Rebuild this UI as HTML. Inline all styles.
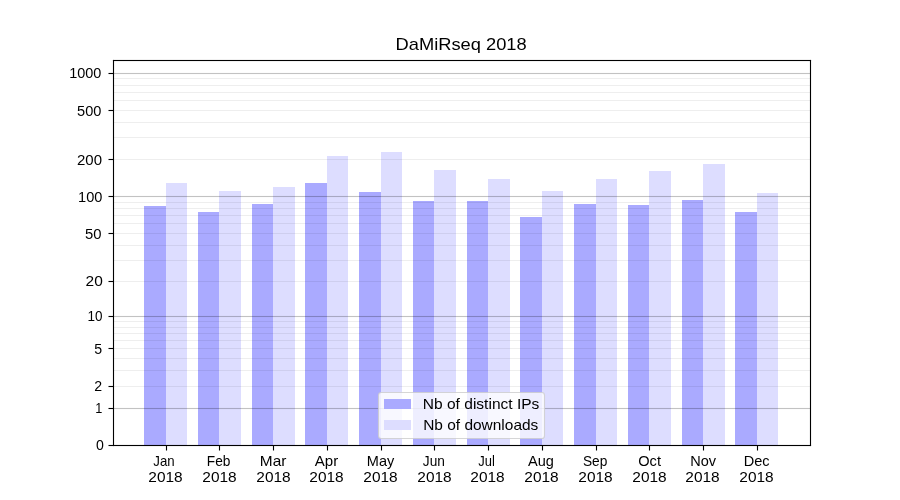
<!DOCTYPE html>
<html><head><meta charset="utf-8"><style>
html,body{margin:0;padding:0;background:#fff;width:900px;height:500px;overflow:hidden}
svg{display:block;will-change:transform}
text{font-family:"Liberation Sans",sans-serif;fill:#000}
</style></head><body>
<svg width="900" height="500" viewBox="0 0 900 500">
<rect x="0" y="0" width="900" height="500" fill="#fff"/>
<g shape-rendering="crispEdges">
<rect x="144" y="206" width="22" height="239" fill="#aaaaff"/>
<rect x="198" y="212" width="21" height="233" fill="#aaaaff"/>
<rect x="252" y="204" width="21" height="241" fill="#aaaaff"/>
<rect x="305" y="183" width="22" height="262" fill="#aaaaff"/>
<rect x="359" y="192" width="22" height="253" fill="#aaaaff"/>
<rect x="413" y="201" width="21" height="244" fill="#aaaaff"/>
<rect x="467" y="201" width="21" height="244" fill="#aaaaff"/>
<rect x="520" y="217" width="22" height="228" fill="#aaaaff"/>
<rect x="574" y="204" width="22" height="241" fill="#aaaaff"/>
<rect x="628" y="205" width="21" height="240" fill="#aaaaff"/>
<rect x="682" y="200" width="21" height="245" fill="#aaaaff"/>
<rect x="735" y="212" width="22" height="233" fill="#aaaaff"/>
<rect x="166" y="183" width="21" height="262" fill="#ddddff"/>
<rect x="219" y="191" width="22" height="254" fill="#ddddff"/>
<rect x="273" y="187" width="22" height="258" fill="#ddddff"/>
<rect x="327" y="156" width="21" height="289" fill="#ddddff"/>
<rect x="381" y="152" width="21" height="293" fill="#ddddff"/>
<rect x="434" y="170" width="22" height="275" fill="#ddddff"/>
<rect x="488" y="179" width="22" height="266" fill="#ddddff"/>
<rect x="542" y="191" width="21" height="254" fill="#ddddff"/>
<rect x="596" y="179" width="21" height="266" fill="#ddddff"/>
<rect x="649" y="171" width="22" height="274" fill="#ddddff"/>
<rect x="703" y="164" width="22" height="281" fill="#ddddff"/>
<rect x="757" y="193" width="21" height="252" fill="#ddddff"/>
</g>
<rect x="113.5" y="407.945" width="697" height="1.11" fill="#000000" fill-opacity="0.24"/>
<rect x="113.5" y="315.945" width="697" height="1.11" fill="#000000" fill-opacity="0.24"/>
<rect x="113.5" y="195.945" width="697" height="1.11" fill="#000000" fill-opacity="0.24"/>
<rect x="113.5" y="72.945" width="697" height="1.11" fill="#000000" fill-opacity="0.24"/>
<rect x="113.5" y="385.945" width="697" height="1.11" fill="#000000" fill-opacity="0.065"/>
<rect x="113.5" y="369.945" width="697" height="1.11" fill="#000000" fill-opacity="0.065"/>
<rect x="113.5" y="357.945" width="697" height="1.11" fill="#000000" fill-opacity="0.065"/>
<rect x="113.5" y="347.945" width="697" height="1.11" fill="#000000" fill-opacity="0.065"/>
<rect x="113.5" y="339.945" width="697" height="1.11" fill="#000000" fill-opacity="0.065"/>
<rect x="113.5" y="332.945" width="697" height="1.11" fill="#000000" fill-opacity="0.065"/>
<rect x="113.5" y="326.945" width="697" height="1.11" fill="#000000" fill-opacity="0.065"/>
<rect x="113.5" y="320.945" width="697" height="1.11" fill="#000000" fill-opacity="0.065"/>
<rect x="113.5" y="280.945" width="697" height="1.11" fill="#000000" fill-opacity="0.065"/>
<rect x="113.5" y="259.945" width="697" height="1.11" fill="#000000" fill-opacity="0.065"/>
<rect x="113.5" y="244.945" width="697" height="1.11" fill="#000000" fill-opacity="0.065"/>
<rect x="113.5" y="232.945" width="697" height="1.11" fill="#000000" fill-opacity="0.065"/>
<rect x="113.5" y="222.945" width="697" height="1.11" fill="#000000" fill-opacity="0.065"/>
<rect x="113.5" y="214.945" width="697" height="1.11" fill="#000000" fill-opacity="0.065"/>
<rect x="113.5" y="207.945" width="697" height="1.11" fill="#000000" fill-opacity="0.065"/>
<rect x="113.5" y="201.945" width="697" height="1.11" fill="#000000" fill-opacity="0.065"/>
<rect x="113.5" y="158.945" width="697" height="1.11" fill="#000000" fill-opacity="0.065"/>
<rect x="113.5" y="136.945" width="697" height="1.11" fill="#000000" fill-opacity="0.065"/>
<rect x="113.5" y="121.945" width="697" height="1.11" fill="#000000" fill-opacity="0.065"/>
<rect x="113.5" y="109.945" width="697" height="1.11" fill="#000000" fill-opacity="0.065"/>
<rect x="113.5" y="99.945" width="697" height="1.11" fill="#000000" fill-opacity="0.065"/>
<rect x="113.5" y="91.945" width="697" height="1.11" fill="#000000" fill-opacity="0.065"/>
<rect x="113.5" y="84.945" width="697" height="1.11" fill="#000000" fill-opacity="0.065"/>
<rect x="113.5" y="77.945" width="697" height="1.11" fill="#000000" fill-opacity="0.065"/>
<g fill="#000">
<rect x="112.945" y="59.945" width="1.11" height="386.11"/>
<rect x="809.945" y="59.945" width="1.11" height="386.11"/>
<rect x="112.945" y="59.945" width="698.11" height="1.11"/>
<rect x="112.945" y="444.945" width="698.11" height="1.11"/>
<rect x="108.5" y="444.945" width="4.86" height="1.11"/>
<rect x="108.5" y="407.945" width="4.86" height="1.11"/>
<rect x="108.5" y="385.945" width="4.86" height="1.11"/>
<rect x="108.5" y="347.945" width="4.86" height="1.11"/>
<rect x="108.5" y="315.945" width="4.86" height="1.11"/>
<rect x="108.5" y="280.945" width="4.86" height="1.11"/>
<rect x="108.5" y="232.945" width="4.86" height="1.11"/>
<rect x="108.5" y="195.945" width="4.86" height="1.11"/>
<rect x="108.5" y="158.945" width="4.86" height="1.11"/>
<rect x="108.5" y="109.945" width="4.86" height="1.11"/>
<rect x="108.5" y="72.945" width="4.86" height="1.11"/>
<rect x="165.945" y="445.5" width="1.11" height="5"/>
<rect x="218.945" y="445.5" width="1.11" height="5"/>
<rect x="272.945" y="445.5" width="1.11" height="5"/>
<rect x="326.945" y="445.5" width="1.11" height="5"/>
<rect x="380.945" y="445.5" width="1.11" height="5"/>
<rect x="433.945" y="445.5" width="1.11" height="5"/>
<rect x="487.945" y="445.5" width="1.11" height="5"/>
<rect x="541.945" y="445.5" width="1.11" height="5"/>
<rect x="595.945" y="445.5" width="1.11" height="5"/>
<rect x="648.945" y="445.5" width="1.11" height="5"/>
<rect x="702.945" y="445.5" width="1.11" height="5"/>
<rect x="756.945" y="445.5" width="1.11" height="5"/>
</g>
<g>
<rect x="378.5" y="392.5" width="166" height="46" rx="2.78" ry="2.78" fill="#ffffff" fill-opacity="0.8" stroke="#cccccc" stroke-opacity="0.8" stroke-width="1.11"/>
<rect x="384" y="399" width="27" height="10" fill="#aaaaff"/>
<rect x="384" y="420" width="27" height="10" fill="#ddddff"/>
</g>
<text x="461.10" y="50.17" font-size="17.00" text-anchor="middle" textLength="131.15" lengthAdjust="spacingAndGlyphs">DaMiRseq 2018</text>
<text x="103.80" y="450.12" font-size="14.14" text-anchor="end" textLength="7.86" lengthAdjust="spacingAndGlyphs">0</text>
<text x="102.40" y="413.12" font-size="14.14" text-anchor="end" textLength="7.07" lengthAdjust="spacingAndGlyphs">1</text>
<text x="102.00" y="391.12" font-size="14.14" text-anchor="end" textLength="7.86" lengthAdjust="spacingAndGlyphs">2</text>
<text x="102.00" y="354.12" font-size="14.14" text-anchor="end" textLength="7.86" lengthAdjust="spacingAndGlyphs">5</text>
<text x="102.40" y="321.12" font-size="14.14" text-anchor="end" textLength="14.99" lengthAdjust="spacingAndGlyphs">10</text>
<text x="102.80" y="286.12" font-size="14.14" text-anchor="end" textLength="17.22" lengthAdjust="spacingAndGlyphs">20</text>
<text x="101.40" y="239.12" font-size="14.14" text-anchor="end" textLength="16.50" lengthAdjust="spacingAndGlyphs">50</text>
<text x="102.40" y="202.12" font-size="14.14" text-anchor="end" textLength="24.33" lengthAdjust="spacingAndGlyphs">100</text>
<text x="102.00" y="165.12" font-size="14.14" text-anchor="end" textLength="25.04" lengthAdjust="spacingAndGlyphs">200</text>
<text x="101.40" y="116.12" font-size="14.14" text-anchor="end" textLength="24.33" lengthAdjust="spacingAndGlyphs">500</text>
<text x="101.40" y="78.12" font-size="14.14" text-anchor="end" textLength="32.17" lengthAdjust="spacingAndGlyphs">1000</text>
<text x="164.00" y="466.12" font-size="14.14" text-anchor="middle" textLength="21.33" lengthAdjust="spacingAndGlyphs">Jan</text>
<text x="165.50" y="482.12" font-size="14.14" text-anchor="middle" textLength="34.34" lengthAdjust="spacingAndGlyphs">2018</text>
<text x="218.60" y="465.92" font-size="14.14" text-anchor="middle" textLength="23.60" lengthAdjust="spacingAndGlyphs">Feb</text>
<text x="219.50" y="482.12" font-size="14.14" text-anchor="middle" textLength="34.34" lengthAdjust="spacingAndGlyphs">2018</text>
<text x="273.10" y="466.12" font-size="14.14" text-anchor="middle" textLength="26.56" lengthAdjust="spacingAndGlyphs">Mar</text>
<text x="273.50" y="482.12" font-size="14.14" text-anchor="middle" textLength="34.34" lengthAdjust="spacingAndGlyphs">2018</text>
<text x="326.50" y="466.12" font-size="14.14" text-anchor="middle" textLength="23.45" lengthAdjust="spacingAndGlyphs">Apr</text>
<text x="326.50" y="482.12" font-size="14.14" text-anchor="middle" textLength="34.34" lengthAdjust="spacingAndGlyphs">2018</text>
<text x="380.60" y="466.12" font-size="14.14" text-anchor="middle" textLength="27.43" lengthAdjust="spacingAndGlyphs">May</text>
<text x="380.50" y="482.12" font-size="14.14" text-anchor="middle" textLength="34.34" lengthAdjust="spacingAndGlyphs">2018</text>
<text x="433.90" y="466.12" font-size="14.14" text-anchor="middle" textLength="22.06" lengthAdjust="spacingAndGlyphs">Jun</text>
<text x="434.50" y="482.12" font-size="14.14" text-anchor="middle" textLength="34.34" lengthAdjust="spacingAndGlyphs">2018</text>
<text x="486.50" y="465.92" font-size="14.14" text-anchor="middle" textLength="16.57" lengthAdjust="spacingAndGlyphs">Jul</text>
<text x="487.50" y="482.12" font-size="14.14" text-anchor="middle" textLength="34.34" lengthAdjust="spacingAndGlyphs">2018</text>
<text x="540.90" y="466.12" font-size="14.14" text-anchor="middle" textLength="25.87" lengthAdjust="spacingAndGlyphs">Aug</text>
<text x="541.50" y="482.12" font-size="14.14" text-anchor="middle" textLength="34.34" lengthAdjust="spacingAndGlyphs">2018</text>
<text x="595.10" y="466.12" font-size="14.14" text-anchor="middle" textLength="24.41" lengthAdjust="spacingAndGlyphs">Sep</text>
<text x="595.50" y="482.12" font-size="14.14" text-anchor="middle" textLength="34.34" lengthAdjust="spacingAndGlyphs">2018</text>
<text x="649.60" y="466.12" font-size="14.14" text-anchor="middle" textLength="22.72" lengthAdjust="spacingAndGlyphs">Oct</text>
<text x="649.50" y="482.12" font-size="14.14" text-anchor="middle" textLength="34.34" lengthAdjust="spacingAndGlyphs">2018</text>
<text x="703.10" y="466.12" font-size="14.14" text-anchor="middle" textLength="25.86" lengthAdjust="spacingAndGlyphs">Nov</text>
<text x="702.50" y="482.12" font-size="14.14" text-anchor="middle" textLength="34.34" lengthAdjust="spacingAndGlyphs">2018</text>
<text x="756.60" y="466.12" font-size="14.14" text-anchor="middle" textLength="25.89" lengthAdjust="spacingAndGlyphs">Dec</text>
<text x="756.50" y="482.12" font-size="14.14" text-anchor="middle" textLength="34.34" lengthAdjust="spacingAndGlyphs">2018</text>
<text x="422.80" y="408.92" font-size="14.14" text-anchor="start" textLength="116.59" lengthAdjust="spacingAndGlyphs">Nb of distinct IPs</text>
<text x="423.20" y="429.92" font-size="14.14" text-anchor="start" textLength="115.15" lengthAdjust="spacingAndGlyphs">Nb of downloads</text>
</svg>
</body></html>
